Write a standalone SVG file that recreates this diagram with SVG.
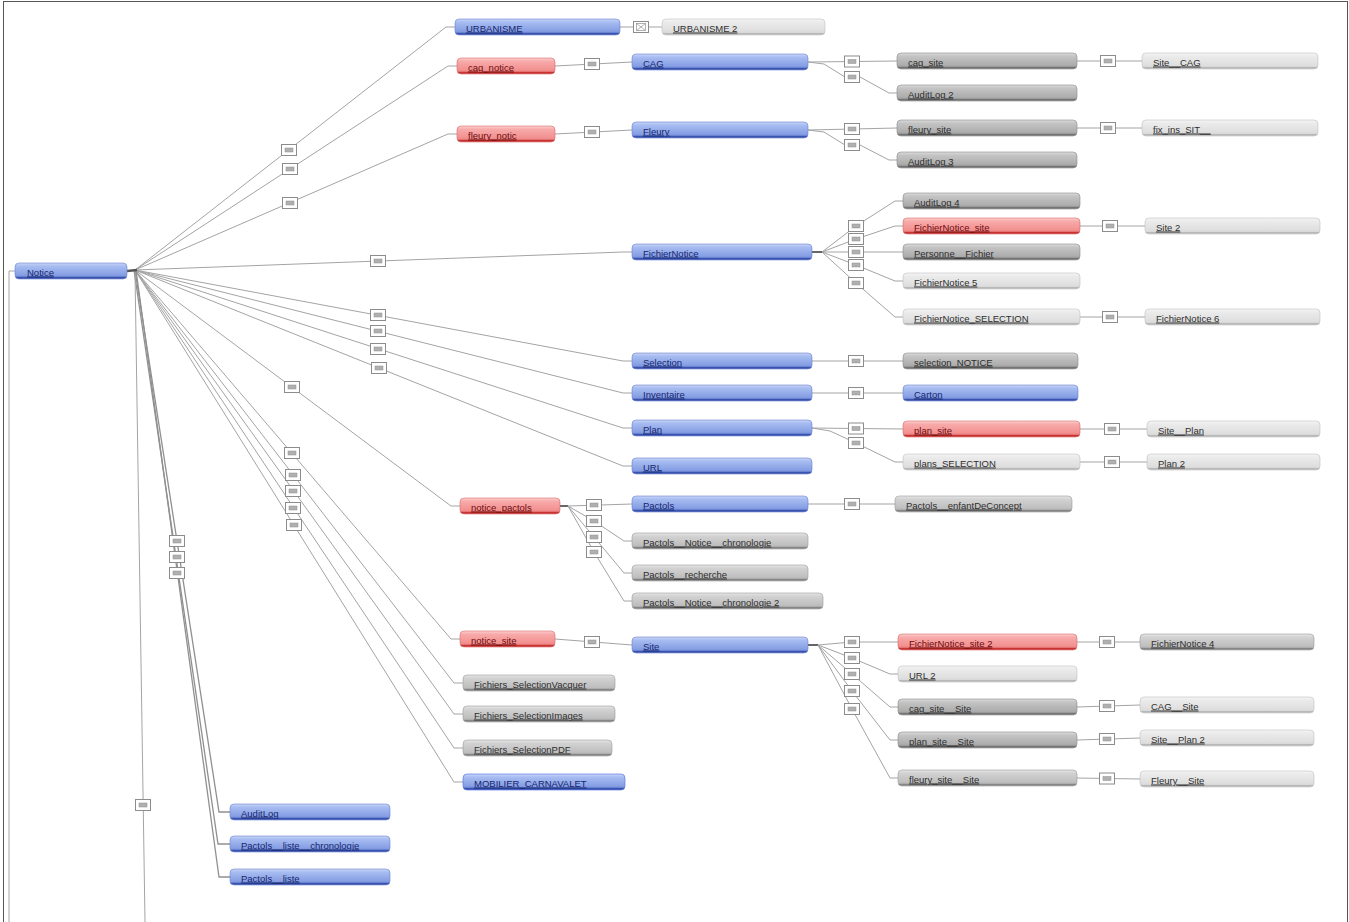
<svg xmlns="http://www.w3.org/2000/svg" xmlns:xlink="http://www.w3.org/1999/xlink" width="1349" height="922" viewBox="0 0 1349 922">
<defs>
<linearGradient id="gb" x1="0" y1="0" x2="0" y2="1"><stop offset="0" stop-color="#c9d6f7"/><stop offset="0.2" stop-color="#a7bcf1"/><stop offset="0.75" stop-color="#869fe4"/><stop offset="0.84" stop-color="#7890da"/><stop offset="0.86" stop-color="#2f4aa8"/><stop offset="1" stop-color="#4d66bb"/></linearGradient>
<linearGradient id="gr" x1="0" y1="0" x2="0" y2="1"><stop offset="0" stop-color="#fdd0d0"/><stop offset="0.2" stop-color="#f8aaaa"/><stop offset="0.75" stop-color="#f29090"/><stop offset="0.84" stop-color="#ee8282"/><stop offset="0.86" stop-color="#c02828"/><stop offset="1" stop-color="#d24a4a"/></linearGradient>
<linearGradient id="gg" x1="0" y1="0" x2="0" y2="1"><stop offset="0" stop-color="#dcdcdc"/><stop offset="0.2" stop-color="#c4c4c4"/><stop offset="0.75" stop-color="#adadad"/><stop offset="0.84" stop-color="#a4a4a4"/><stop offset="0.86" stop-color="#6a6a6a"/><stop offset="1" stop-color="#8a8a8a"/></linearGradient>
<linearGradient id="gm" x1="0" y1="0" x2="0" y2="1"><stop offset="0" stop-color="#e6e6e6"/><stop offset="0.2" stop-color="#d2d2d2"/><stop offset="0.75" stop-color="#bfbfbf"/><stop offset="0.84" stop-color="#b8b8b8"/><stop offset="0.86" stop-color="#7c7c7c"/><stop offset="1" stop-color="#9a9a9a"/></linearGradient>
<linearGradient id="gl" x1="0" y1="0" x2="0" y2="1"><stop offset="0" stop-color="#f5f5f5"/><stop offset="0.2" stop-color="#ebebeb"/><stop offset="0.75" stop-color="#dfdfdf"/><stop offset="0.86" stop-color="#d8d8d8"/><stop offset="0.88" stop-color="#b4b4b4"/><stop offset="1" stop-color="#c6c6c6"/></linearGradient>
<g id="bx"><rect x="-7.5" y="-5.5" width="15" height="11" fill="#fff" stroke="#8c8c8c" stroke-width="1"/><rect x="-4" y="-2" width="8" height="4" fill="#b0b0b0" stroke="#909090" stroke-width="0.5"/></g>
<g id="bxx"><rect x="-7.5" y="-5.5" width="15" height="11" fill="#fff" stroke="#8c8c8c" stroke-width="1"/><rect x="-4.5" y="-3.5" width="9" height="7" fill="none" stroke="#909090" stroke-width="0.7"/><path d="M-4.5,-3.5 L4.5,3.5 M-4.5,3.5 L4.5,-3.5" stroke="#909090" stroke-width="0.7"/></g>
</defs>
<style>
.c{fill:none;stroke:#a4a4a4;stroke-width:1}
.b{fill:url(#gb);stroke:#6a82cf;stroke-width:0.6}
.r{fill:url(#gr);stroke:#d86a6a;stroke-width:0.6}
.g{fill:url(#gg);stroke:#8a8a8a;stroke-width:0.6}
.m{fill:url(#gm);stroke:#9c9c9c;stroke-width:0.6}
.l{fill:url(#gl);stroke:#c0c0c0;stroke-width:0.6}
rect.b,rect.r,rect.g,rect.m,rect.l{height:16px}
text{font-family:"Liberation Sans","DejaVu Sans",sans-serif;font-size:9.5px;text-decoration:underline}
.tb{fill:#17266e}
.tr{fill:#6e0c0c}
.tg{fill:#2e2e2e}
</style>
<rect x="0" y="0" width="1349" height="922" fill="#fff"/>
<rect x="3.5" y="1.5" width="1344" height="930" fill="none" stroke="#555" stroke-width="1"/>
<g id="connectors">
<path class="c" d="M15,271 H9 V922"/>
<path class="c" d="M135,270 L446,27 H455"/>
<path class="c" d="M135,270 L448,66 H457"/>
<path class="c" d="M135,270 L448,134 H457"/>
<path class="c" d="M135,270 L623,252 H632"/>
<path class="c" d="M135,270 L623,361 H632"/>
<path class="c" d="M135,270 L623,393 H632"/>
<path class="c" d="M135,270 L623,428 H632"/>
<path class="c" d="M135,270 L623,466 H632"/>
<path class="c" d="M135,270 L451,506 H460"/>
<path class="c" d="M135,270 L451,639 H460"/>
<path class="c" d="M135,270 L454,683 H463"/>
<path class="c" d="M135,270 L454,714 H463"/>
<path class="c" d="M135,270 L454,748 H463"/>
<path class="c" d="M135,270 L454,782 H463"/>
<path class="c" d="M135,270 L219,812 H230" style="stroke:#909090;stroke-width:1.3"/>
<path class="c" d="M134,270 L218,844 H230" style="stroke:#909090;stroke-width:1.3"/>
<path class="c" d="M136,270 L219,877 H230" style="stroke:#909090;stroke-width:1.3"/>
<path class="c" d="M135,272 L145,922"/>
<path d="M127,271 L137,270" stroke="#555" stroke-width="2.5" fill="none"/>
<path class="c" d="M620,27 H662"/>
<path class="c" d="M555,66 L632,62"/>
<path class="c" d="M555,134 L632,130"/>
<path class="c" d="M808,62 L897,61"/>
<path class="c" d="M808,62 L824,64 L845,77 H860 L889,93 H897"/>
<path class="c" d="M808,130 L897,128"/>
<path class="c" d="M808,130 L824,132 L845,145 H860 L889,160 H897"/>
<path class="c" d="M1077,61 H1142"/>
<path class="c" d="M1077,128 H1142"/>
<path d="M812,252 H822" stroke="#666" stroke-width="2" fill="none"/>
<path class="c" d="M822,252 L856,226 L895,201 H903"/>
<path class="c" d="M822,252 L856,239 L895,226 H903"/>
<path class="c" d="M822,252 L895,252 H903"/>
<path class="c" d="M822,252 L856,265 L895,281 H903"/>
<path class="c" d="M822,252 L856,283 L895,317 H903"/>
<path class="c" d="M1080,226 H1145"/>
<path class="c" d="M1080,317 H1145"/>
<path class="c" d="M812,361 H903"/>
<path class="c" d="M812,393 H903"/>
<path class="c" d="M812,428 L903,429"/>
<path class="c" d="M812,428 L830,431 L856,443 L895,462 H903"/>
<path class="c" d="M1080,429 H1147"/>
<path class="c" d="M1080,462 H1147"/>
<path d="M560,506 H568" stroke="#666" stroke-width="2" fill="none"/>
<path class="c" d="M568,506 L632,504"/>
<path class="c" d="M568,506 L594,521 L624,541 H632"/>
<path class="c" d="M568,506 L594,537 L624,573 H632"/>
<path class="c" d="M568,506 L594,552 L624,601 H632"/>
<path class="c" d="M808,504 H895"/>
<path class="c" d="M555,639 L632,645"/>
<path d="M808,645 H818" stroke="#666" stroke-width="2" fill="none"/>
<path class="c" d="M818,645 L852,642 L890,642 H898"/>
<path class="c" d="M818,645 L852,658 L890,674 H898"/>
<path class="c" d="M818,645 L852,674 L890,707 H898"/>
<path class="c" d="M818,645 L852,691 L890,740 H898"/>
<path class="c" d="M818,645 L852,709 L890,778 H898"/>
<path class="c" d="M1077,642 H1140"/>
<path class="c" d="M1077,707 L1140,705"/>
<path class="c" d="M1077,740 L1140,738"/>
<path class="c" d="M1077,778 L1140,779"/>
<use href="#bx" x="289" y="150"/>
<use href="#bx" x="290" y="169"/>
<use href="#bx" x="290" y="203"/>
<use href="#bx" x="378" y="261"/>
<use href="#bx" x="378" y="315"/>
<use href="#bx" x="378" y="331"/>
<use href="#bx" x="378" y="349"/>
<use href="#bx" x="379" y="368"/>
<use href="#bx" x="292" y="387"/>
<use href="#bx" x="292" y="453"/>
<use href="#bx" x="293" y="475"/>
<use href="#bx" x="293" y="491"/>
<use href="#bx" x="293" y="508"/>
<use href="#bx" x="294" y="525"/>
<use href="#bx" x="177" y="541"/>
<use href="#bx" x="177" y="557"/>
<use href="#bx" x="177" y="573"/>
<use href="#bx" x="143" y="805"/>
<use href="#bxx" x="641" y="27"/>
<use href="#bx" x="592" y="64"/>
<use href="#bx" x="592" y="132"/>
<use href="#bx" x="852" y="61.5"/>
<use href="#bx" x="852" y="77"/>
<use href="#bx" x="852" y="129"/>
<use href="#bx" x="852" y="145"/>
<use href="#bx" x="1108" y="61"/>
<use href="#bx" x="1108" y="128"/>
<use href="#bx" x="856" y="226"/>
<use href="#bx" x="856" y="239"/>
<use href="#bx" x="856" y="252"/>
<use href="#bx" x="856" y="265"/>
<use href="#bx" x="856" y="283"/>
<use href="#bx" x="1110" y="226"/>
<use href="#bx" x="1110" y="317"/>
<use href="#bx" x="856" y="361"/>
<use href="#bx" x="856" y="393"/>
<use href="#bx" x="856" y="428.5"/>
<use href="#bx" x="856" y="443"/>
<use href="#bx" x="1112" y="429"/>
<use href="#bx" x="1112" y="462"/>
<use href="#bx" x="594" y="505"/>
<use href="#bx" x="594" y="521"/>
<use href="#bx" x="594" y="537"/>
<use href="#bx" x="594" y="552"/>
<use href="#bx" x="852" y="504"/>
<use href="#bx" x="592" y="642"/>
<use href="#bx" x="852" y="642"/>
<use href="#bx" x="852" y="658"/>
<use href="#bx" x="852" y="674"/>
<use href="#bx" x="852" y="691"/>
<use href="#bx" x="852" y="709"/>
<use href="#bx" x="1107" y="642"/>
<use href="#bx" x="1107" y="706"/>
<use href="#bx" x="1107" y="739"/>
<use href="#bx" x="1107" y="778.5"/>
</g>
<g id="n-notice"><rect class="b" x="15" y="263" width="112" height="16" rx="4"/><text class="tb" x="27" y="275.5">Notice</text></g>
<g id="n-urbanisme"><rect class="b" x="455" y="19" width="165" height="16" rx="4"/><text class="tb" x="466" y="31.5">URBANISME</text></g>
<g id="n-urbanisme2"><rect class="l" x="662" y="19" width="163" height="16" rx="4"/><text class="tg" x="673" y="31.5">URBANISME 2</text></g>
<g id="n-cag_notice"><rect class="r" x="457" y="58" width="98" height="16" rx="4"/><text class="tr" x="468" y="70.5">cag_notice</text></g>
<g id="n-cag"><rect class="b" x="632" y="54" width="176" height="16" rx="4"/><text class="tb" x="643" y="66.5">CAG</text></g>
<g id="n-cag_site"><rect class="g" x="897" y="53" width="180" height="16" rx="4"/><text class="tg" x="908" y="65.5">cag_site</text></g>
<g id="n-auditlog2"><rect class="g" x="897" y="85" width="180" height="16" rx="4"/><text class="tg" x="908" y="97.5">AuditLog 2</text></g>
<g id="n-site_cag"><rect class="l" x="1142" y="53" width="176" height="16" rx="4"/><text class="tg" x="1153" y="65.5">Site__CAG</text></g>
<g id="n-fleury_notic"><rect class="r" x="457" y="126" width="98" height="16" rx="4"/><text class="tr" x="468" y="138.5">fleury_notic</text></g>
<g id="n-fleury"><rect class="b" x="632" y="122" width="176" height="16" rx="4"/><text class="tb" x="643" y="134.5">Fleury</text></g>
<g id="n-fleury_site"><rect class="g" x="897" y="120" width="180" height="16" rx="4"/><text class="tg" x="908" y="132.5">fleury_site</text></g>
<g id="n-auditlog3"><rect class="g" x="897" y="152" width="180" height="16" rx="4"/><text class="tg" x="908" y="164.5">AuditLog 3</text></g>
<g id="n-fix_ins_sit"><rect class="l" x="1142" y="120" width="176" height="16" rx="4"/><text class="tg" x="1153" y="132.5">fix_ins_SIT__</text></g>
<g id="n-fichiernotice"><rect class="b" x="632" y="244" width="180" height="16" rx="4"/><text class="tb" x="643" y="256.5">FichierNotice</text></g>
<g id="n-auditlog4"><rect class="g" x="903" y="193" width="177" height="16" rx="4"/><text class="tg" x="914" y="205.5">AuditLog 4</text></g>
<g id="n-fichiernotice_site"><rect class="r" x="903" y="218" width="177" height="16" rx="4"/><text class="tr" x="914" y="230.5">FichierNotice_site</text></g>
<g id="n-personne_fichier"><rect class="g" x="903" y="244" width="177" height="16" rx="4"/><text class="tg" x="914" y="256.5">Personne__Fichier</text></g>
<g id="n-fichiernotice5"><rect class="l" x="903" y="273" width="177" height="16" rx="4"/><text class="tg" x="914" y="285.5">FichierNotice 5</text></g>
<g id="n-fichiernotice_selection"><rect class="l" x="903" y="309" width="177" height="16" rx="4"/><text class="tg" x="914" y="321.5">FichierNotice_SELECTION</text></g>
<g id="n-site2"><rect class="l" x="1145" y="218" width="175" height="16" rx="4"/><text class="tg" x="1156" y="230.5">Site 2</text></g>
<g id="n-fichiernotice6"><rect class="l" x="1145" y="309" width="175" height="16" rx="4"/><text class="tg" x="1156" y="321.5">FichierNotice 6</text></g>
<g id="n-selection"><rect class="b" x="632" y="353" width="180" height="16" rx="4"/><text class="tb" x="643" y="365.5">Selection</text></g>
<g id="n-selection_notice"><rect class="g" x="903" y="353" width="175" height="16" rx="4"/><text class="tg" x="914" y="365.5">selection_NOTICE</text></g>
<g id="n-inventaire"><rect class="b" x="632" y="385" width="180" height="16" rx="4"/><text class="tb" x="643" y="397.5">Inventaire</text></g>
<g id="n-carton"><rect class="b" x="903" y="385" width="175" height="16" rx="4"/><text class="tb" x="914" y="397.5">Carton</text></g>
<g id="n-plan"><rect class="b" x="632" y="420" width="180" height="16" rx="4"/><text class="tb" x="643" y="432.5">Plan</text></g>
<g id="n-plan_site"><rect class="r" x="903" y="421" width="177" height="16" rx="4"/><text class="tr" x="914" y="433.5">plan_site</text></g>
<g id="n-site_plan"><rect class="l" x="1147" y="421" width="173" height="16" rx="4"/><text class="tg" x="1158" y="433.5">Site__Plan</text></g>
<g id="n-plans_selection"><rect class="l" x="903" y="454" width="177" height="16" rx="4"/><text class="tg" x="914" y="466.5">plans_SELECTION</text></g>
<g id="n-plan2"><rect class="l" x="1147" y="454" width="173" height="16" rx="4"/><text class="tg" x="1158" y="466.5">Plan 2</text></g>
<g id="n-url"><rect class="b" x="632" y="458" width="180" height="16" rx="4"/><text class="tb" x="643" y="470.5">URL</text></g>
<g id="n-notice_pactols"><rect class="r" x="460" y="498" width="100" height="16" rx="4"/><text class="tr" x="471" y="510.5">notice_pactols</text></g>
<g id="n-pactols"><rect class="b" x="632" y="496" width="176" height="16" rx="4"/><text class="tb" x="643" y="508.5">Pactols</text></g>
<g id="n-pactols_enfant"><rect class="m" x="895" y="496" width="177" height="16" rx="4"/><text class="tg" x="906" y="508.5">Pactols__enfantDeConcept</text></g>
<g id="n-pactols_notice_chrono"><rect class="m" x="632" y="533" width="176" height="16" rx="4"/><text class="tg" x="643" y="545.5">Pactols__Notice__chronologie</text></g>
<g id="n-pactols_recherche"><rect class="m" x="632" y="565" width="176" height="16" rx="4"/><text class="tg" x="643" y="577.5">Pactols__recherche</text></g>
<g id="n-pactols_notice_chrono2"><rect class="m" x="632" y="593" width="191" height="16" rx="4"/><text class="tg" x="643" y="605.5">Pactols__Notice__chronologie 2</text></g>
<g id="n-notice_site"><rect class="r" x="460" y="631" width="95" height="16" rx="4"/><text class="tr" x="471" y="643.5">notice_site</text></g>
<g id="n-site"><rect class="b" x="632" y="637" width="176" height="16" rx="4"/><text class="tb" x="643" y="649.5">Site</text></g>
<g id="n-fichiernotice_site2"><rect class="r" x="898" y="634" width="179" height="16" rx="4"/><text class="tr" x="909" y="646.5">FichierNotice_site 2</text></g>
<g id="n-fichiernotice4"><rect class="m" x="1140" y="634" width="174" height="16" rx="4"/><text class="tg" x="1151" y="646.5">FichierNotice 4</text></g>
<g id="n-url2"><rect class="l" x="898" y="666" width="179" height="16" rx="4"/><text class="tg" x="909" y="678.5">URL 2</text></g>
<g id="n-cag_site_site"><rect class="g" x="898" y="699" width="179" height="16" rx="4"/><text class="tg" x="909" y="711.5">cag_site__Site</text></g>
<g id="n-cag_site2"><rect class="l" x="1140" y="697" width="174" height="16" rx="4"/><text class="tg" x="1151" y="709.5">CAG__Site</text></g>
<g id="n-plan_site_site"><rect class="g" x="898" y="732" width="179" height="16" rx="4"/><text class="tg" x="909" y="744.5">plan_site__Site</text></g>
<g id="n-site_plan2"><rect class="l" x="1140" y="730" width="174" height="16" rx="4"/><text class="tg" x="1151" y="742.5">Site__Plan 2</text></g>
<g id="n-fleury_site_site"><rect class="m" x="898" y="770" width="179" height="16" rx="4"/><text class="tg" x="909" y="782.5">fleury_site__Site</text></g>
<g id="n-fleury_site2"><rect class="l" x="1140" y="771" width="174" height="16" rx="4"/><text class="tg" x="1151" y="783.5">Fleury__Site</text></g>
<g id="n-fichiers_vacquer"><rect class="m" x="463" y="675" width="152" height="16" rx="4"/><text class="tg" x="474" y="687.5">Fichiers_SelectionVacquer</text></g>
<g id="n-fichiers_images"><rect class="m" x="463" y="706" width="152" height="16" rx="4"/><text class="tg" x="474" y="718.5">Fichiers_SelectionImages</text></g>
<g id="n-fichiers_pdf"><rect class="m" x="463" y="740" width="149" height="16" rx="4"/><text class="tg" x="474" y="752.5">Fichiers_SelectionPDF</text></g>
<g id="n-mobilier"><rect class="b" x="463" y="774" width="162" height="16" rx="4" style="stroke:#4a6ae0"/><text class="tb" x="474" y="786.5">MOBILIER_CARNAVALET</text></g>
<g id="n-auditlog"><rect class="b" x="230" y="804" width="160" height="16" rx="4"/><text class="tb" x="241" y="816.5">AuditLog</text></g>
<g id="n-pactols_liste_chrono"><rect class="b" x="230" y="836" width="160" height="16" rx="4"/><text class="tb" x="241" y="848.5">Pactols__liste__chronologie</text></g>
<g id="n-pactols_liste"><rect class="b" x="230" y="869" width="160" height="16" rx="4"/><text class="tb" x="241" y="881.5">Pactols__liste</text></g>
</svg>
